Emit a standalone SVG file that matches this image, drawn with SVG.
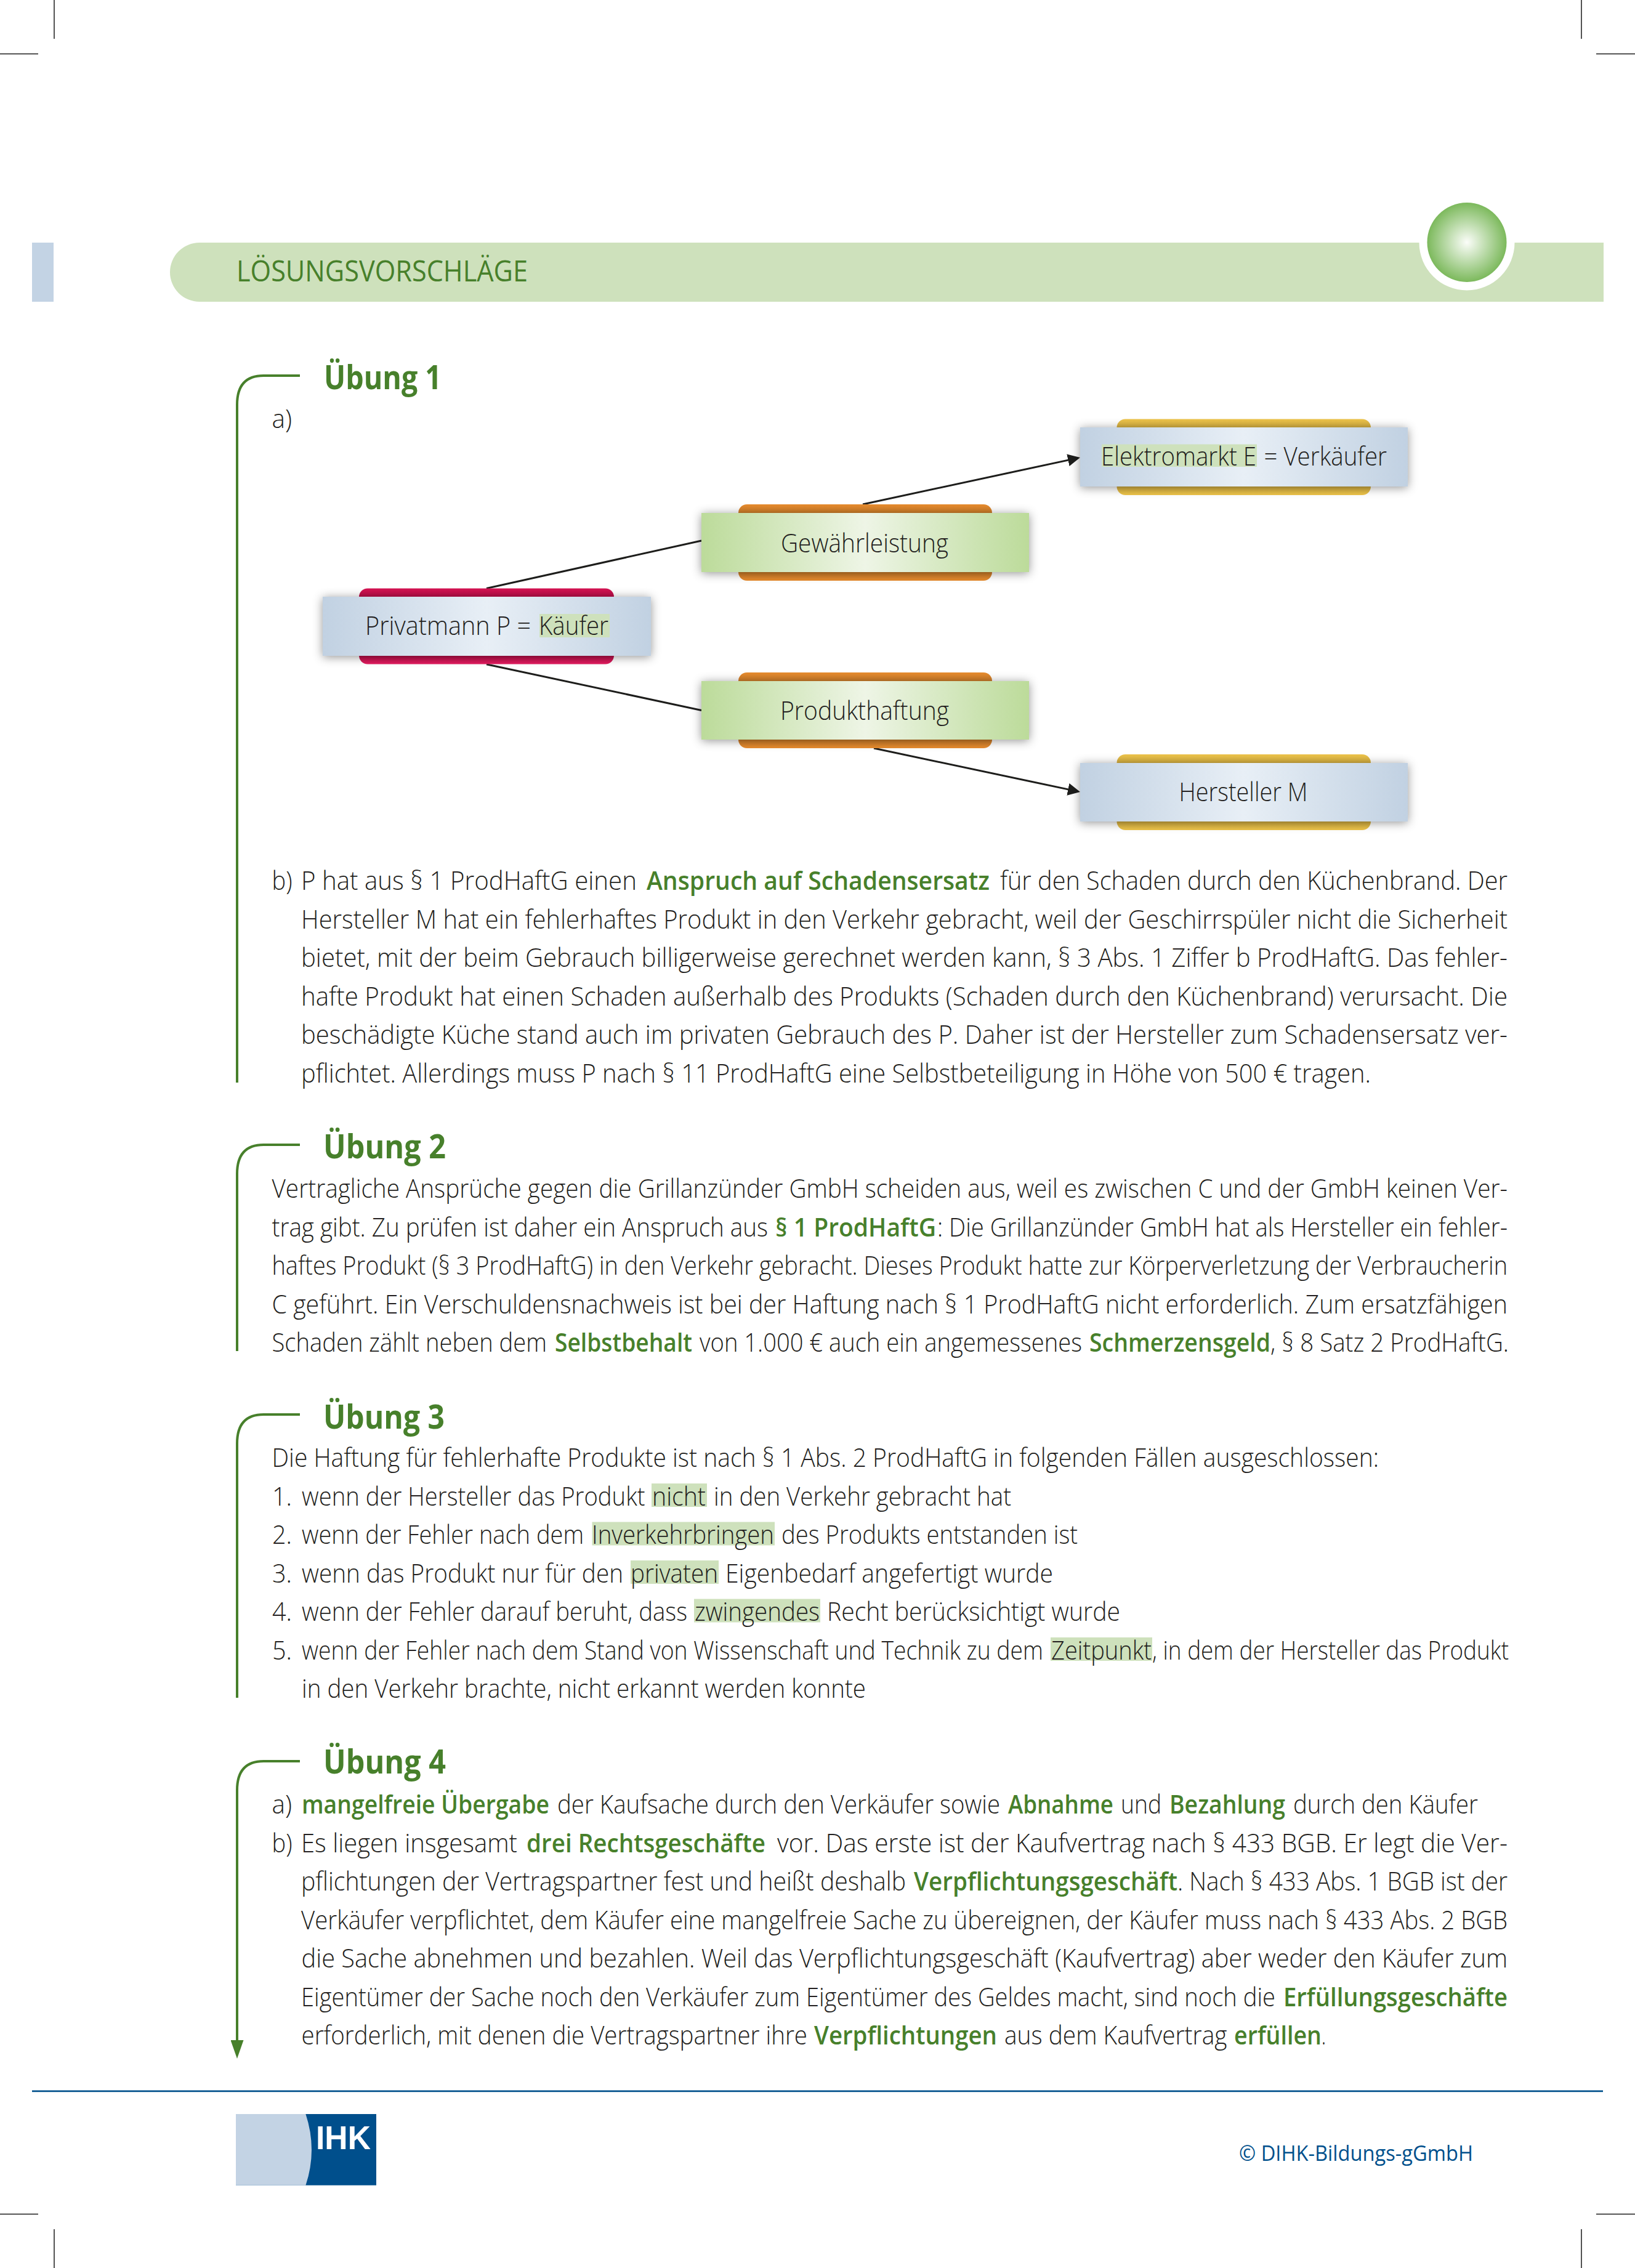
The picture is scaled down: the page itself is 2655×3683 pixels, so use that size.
<svg xmlns="http://www.w3.org/2000/svg" width="2655" height="3683" viewBox="0 0 2655 3683">
<style>
text{font-family:"Open Sans","Noto Sans","Liberation Sans",sans-serif}
.b{font-size:42px;font-weight:300;fill:#231f20}
.g{font-size:42px;font-weight:600;fill:#47802b}
.h{font-size:54px;font-weight:700;fill:#47802b}
.t{font-size:48px;font-weight:500;fill:#47802b}
.hl{fill:#cee1bc}
.crop{stroke:#1a1a1a;stroke-width:1.5;fill:none}
.br{stroke:#47802b;stroke-width:4;fill:none}
.cn{stroke:#1d1d1b;stroke-width:3;fill:none}
.box{filter:url(#sh)}
</style>
<defs>
<filter id="sh" x="-10%" y="-40%" width="120%" height="180%"><feDropShadow dx="0" dy="2" stdDeviation="8" flood-color="#000" flood-opacity=".42"/></filter>
<linearGradient id="bl"><stop offset="0" stop-color="#c1d1e2"/><stop offset=".5" stop-color="#e8eff6"/><stop offset="1" stop-color="#c1d1e2"/></linearGradient>
<linearGradient id="gr"><stop offset="0" stop-color="#bcdb9a"/><stop offset=".5" stop-color="#eef5e6"/><stop offset="1" stop-color="#bcdb9a"/></linearGradient>
<linearGradient id="cr" x2="0" y2="1"><stop offset="0" stop-color="#d61252"/><stop offset=".11" stop-color="#b80e48"/><stop offset=".89" stop-color="#b80e48"/><stop offset="1" stop-color="#e41c60"/></linearGradient>
<linearGradient id="or" x2="0" y2="1"><stop offset="0" stop-color="#e88c2e"/><stop offset=".11" stop-color="#cc7c28"/><stop offset=".89" stop-color="#cc7c28"/><stop offset="1" stop-color="#e88c2e"/></linearGradient>
<linearGradient id="ye" x2="0" y2="1"><stop offset="0" stop-color="#eec44a"/><stop offset=".11" stop-color="#d4ae40"/><stop offset=".89" stop-color="#d4ae40"/><stop offset="1" stop-color="#eec44a"/></linearGradient>
<radialGradient id="ball"><stop offset="0" stop-color="#fbfdf9"/><stop offset="1" stop-color="#7cb95c"/></radialGradient>
<marker id="ah" markerUnits="userSpaceOnUse" markerWidth="20" markerHeight="20" viewBox="0 0 20 20" refX="17" refY="10" orient="auto"><path d="M0 0L20 10L0 20Z" fill="#1d1d1b"/></marker>
<marker id="ag" markerUnits="userSpaceOnUse" markerWidth="30" markerHeight="21" viewBox="0 0 30 21" refX="2" refY="10.5" orient="auto"><path d="M0 0L30 10.5L0 21Z" fill="#47802b"/></marker>
</defs>
<rect width="2655" height="3683" fill="#fff"/>
<g id="crop-marks">
<path class="crop" d="M88 0V63M0 87.5H62M2568 0V63M2592 87.5H2655M88 3620V3683M0 3595.5H62M2568 3620V3683M2592 3595.5H2655"/>
</g>
<g id="header">
<rect x="52" y="394" width="35" height="96" fill="#c3d3e4"/>
<path d="M324 394H2304.5A77.5 77.5 0 0 0 2459.5 394H2604V490H324A48 48 0 0 1 324 394Z" fill="#cee1bc"/>
<circle cx="2382" cy="393.5" r="64.5" fill="url(#ball)"/>
<text class="t" x="384" y="457" textLength="473" lengthAdjust="spacingAndGlyphs">LÖSUNGSVORSCHLÄGE</text>
</g>
<g id="connectors">
<path class="cn" d="M790 955.5L1139 878"/>
<path class="cn" d="M790 1078.7L1139 1153.5"/>
<path class="cn" d="M1401 819L1751 743.6" marker-end="url(#ah)"/>
<path class="cn" d="M1419 1215L1751 1285.4" marker-end="url(#ah)"/>
</g>
<g id="brackets">
<path class="br" d="M487 610H428Q385 610 385 657V1758"/>
<path class="br" d="M487 1859H428Q385 1859 385 1906V2194"/>
<path class="br" d="M487 2297H428Q385 2297 385 2344V2757"/>
<path class="br" d="M487 2860H428Q385 2860 385 2907V3315" marker-end="url(#ag)"/>
</g>
<g id="node-privatmann">
<rect x="583" y="955.5" width="414" height="123" rx="14" fill="url(#cr)"/>
<rect class="box" x="524" y="969" width="533" height="96" fill="url(#bl)"/>
<rect class="hl" x="876" y="997" width="114" height="38"/>
<text class="b" y="1031"><tspan x="593" textLength="269" lengthAdjust="spacingAndGlyphs">Privatmann P =</tspan><tspan x="875" textLength="113" lengthAdjust="spacingAndGlyphs">Käufer</tspan></text>
</g>
<g id="node-gewaehrleistung">
<rect x="1199" y="819" width="412" height="124" rx="14" fill="url(#or)"/>
<rect class="box" x="1139" y="833" width="532" height="96" fill="url(#gr)"/>
<text class="b" x="1268" y="896.5" textLength="272" lengthAdjust="spacingAndGlyphs">Gewährleistung</text>
</g>
<g id="node-produkthaftung">
<rect x="1199" y="1092" width="412" height="123" rx="14" fill="url(#or)"/>
<rect class="box" x="1139" y="1106" width="532" height="95" fill="url(#gr)"/>
<text class="b" x="1267" y="1169" textLength="274" lengthAdjust="spacingAndGlyphs">Produkthaftung</text>
</g>
<g id="node-elektromarkt">
<rect x="1813.5" y="680.5" width="412.5" height="123.5" rx="14" fill="url(#ye)"/>
<rect class="box" x="1754" y="694" width="532" height="96" fill="url(#bl)"/>
<rect class="hl" x="1789" y="721.5" width="252" height="36.5"/>
<text class="b" y="755.5"><tspan x="1788" textLength="252" lengthAdjust="spacingAndGlyphs">Elektromarkt E</tspan><tspan x="2052.5" textLength="199.5" lengthAdjust="spacingAndGlyphs">= Verkäufer</tspan></text>
</g>
<g id="node-hersteller">
<rect x="1813.5" y="1225" width="412.5" height="123" rx="14" fill="url(#ye)"/>
<rect class="box" x="1754" y="1239" width="532" height="95" fill="url(#bl)"/>
<text class="b" x="1914.5" y="1300.5" textLength="209" lengthAdjust="spacingAndGlyphs">Hersteller M</text>
</g>
<g id="uebung1">
<text class="h" x="526" y="632" textLength="191" lengthAdjust="spacingAndGlyphs">Übung 1</text>
<text class="b" x="441.5" y="695" textLength="32.5" lengthAdjust="spacingAndGlyphs">a)</text>
<text class="b" y="1445"><tspan x="441.5" textLength="33" lengthAdjust="spacingAndGlyphs">b)</tspan><tspan x="489" textLength="545" lengthAdjust="spacingAndGlyphs">P hat aus § 1 ProdHaftG einen</tspan><tspan class="g" x="1050" textLength="557" lengthAdjust="spacingAndGlyphs">Anspruch auf Schadensersatz</tspan><tspan x="1624" textLength="824" lengthAdjust="spacingAndGlyphs">für den Schaden durch den Küchenbrand. Der</tspan></text>
<text class="b" x="489" y="1507.5" textLength="1959" lengthAdjust="spacingAndGlyphs">Hersteller M hat ein fehlerhaftes Produkt in den Verkehr gebracht, weil der Geschirrspüler nicht die Sicherheit</text>
<text class="b" x="489" y="1570" textLength="1959" lengthAdjust="spacingAndGlyphs">bietet, mit der beim Gebrauch billigerweise gerechnet werden kann, § 3 Abs. 1 Ziffer b ProdHaftG. Das fehler-</text>
<text class="b" x="489" y="1632.5" textLength="1959" lengthAdjust="spacingAndGlyphs">hafte Produkt hat einen Schaden außerhalb des Produkts (Schaden durch den Küchenbrand) verursacht. Die</text>
<text class="b" x="489" y="1695" textLength="1959" lengthAdjust="spacingAndGlyphs">beschädigte Küche stand auch im privaten Gebrauch des P. Daher ist der Hersteller zum Schadensersatz ver-</text>
<text class="b" x="489" y="1757.5" textLength="1737" lengthAdjust="spacingAndGlyphs">pflichtet. Allerdings muss P nach § 11 ProdHaftG eine Selbstbeteiligung in Höhe von 500 € tragen.</text>
</g>
<g id="uebung2">
<text class="h" x="525" y="1881" textLength="199" lengthAdjust="spacingAndGlyphs">Übung 2</text>
<text class="b" x="441.5" y="1945" textLength="2006.5" lengthAdjust="spacingAndGlyphs">Vertragliche Ansprüche gegen die Grillanzünder GmbH scheiden aus, weil es zwischen C und der GmbH keinen Ver-</text>
<text class="b" y="2007.5"><tspan x="441.5" textLength="805.5" lengthAdjust="spacingAndGlyphs">trag gibt. Zu prüfen ist daher ein Anspruch aus</tspan><tspan class="g" x="1259" textLength="261" lengthAdjust="spacingAndGlyphs">§ 1 ProdHaftG</tspan><tspan x="1522" textLength="926" lengthAdjust="spacingAndGlyphs">: Die Grillanzünder GmbH hat als Hersteller ein fehler-</tspan></text>
<text class="b" x="441.5" y="2070" textLength="2006.5" lengthAdjust="spacingAndGlyphs">haftes Produkt (§ 3 ProdHaftG) in den Verkehr gebracht. Dieses Produkt hatte zur Körperverletzung der Verbraucherin</text>
<text class="b" x="441.5" y="2132.5" textLength="2006.5" lengthAdjust="spacingAndGlyphs">C geführt. Ein Verschuldensnachweis ist bei der Haftung nach § 1 ProdHaftG nicht erforderlich. Zum ersatzfähigen</text>
<text class="b" y="2195"><tspan x="441.5" textLength="446.5" lengthAdjust="spacingAndGlyphs">Schaden zählt neben dem</tspan><tspan class="g" x="901" textLength="223" lengthAdjust="spacingAndGlyphs">Selbstbehalt</tspan><tspan x="1136" textLength="621" lengthAdjust="spacingAndGlyphs">von 1.000 € auch ein angemessenes</tspan><tspan class="g" x="1769" textLength="294" lengthAdjust="spacingAndGlyphs">Schmerzensgeld</tspan><tspan x="2063" textLength="387" lengthAdjust="spacingAndGlyphs">, § 8 Satz 2 ProdHaftG.</tspan></text>
</g>
<g id="uebung3">
<text class="h" x="525" y="2320" textLength="197" lengthAdjust="spacingAndGlyphs">Übung 3</text>
<text class="b" x="441.5" y="2382" textLength="1797.5" lengthAdjust="spacingAndGlyphs">Die Haftung für fehlerhafte Produkte ist nach § 1 Abs. 2 ProdHaftG in folgenden Fällen ausgeschlossen:</text>
<rect class="hl" x="1058" y="2409" width="90" height="38"/>
<rect class="hl" x="961.5" y="2471.5" width="296.5" height="38"/>
<rect class="hl" x="1024" y="2534" width="143" height="38"/>
<rect class="hl" x="1127" y="2596.5" width="205" height="38"/>
<rect class="hl" x="1706" y="2659" width="165" height="38"/>
<text class="b" y="2444.5"><tspan x="442" textLength="32" lengthAdjust="spacingAndGlyphs">1.</tspan><tspan x="490" textLength="557.5" lengthAdjust="spacingAndGlyphs">wenn der Hersteller das Produkt</tspan><tspan x="1059" textLength="87" lengthAdjust="spacingAndGlyphs">nicht</tspan><tspan x="1159" textLength="483" lengthAdjust="spacingAndGlyphs">in den Verkehr gebracht hat</tspan></text>
<text class="b" y="2507"><tspan x="442" textLength="32" lengthAdjust="spacingAndGlyphs">2.</tspan><tspan x="490" textLength="458" lengthAdjust="spacingAndGlyphs">wenn der Fehler nach dem</tspan><tspan x="961" textLength="296" lengthAdjust="spacingAndGlyphs">Inverkehrbringen</tspan><tspan x="1269" textLength="481" lengthAdjust="spacingAndGlyphs">des Produkts entstanden ist</tspan></text>
<text class="b" y="2569.5"><tspan x="442" textLength="32" lengthAdjust="spacingAndGlyphs">3.</tspan><tspan x="490" textLength="522" lengthAdjust="spacingAndGlyphs">wenn das Produkt nur für den</tspan><tspan x="1024" textLength="142" lengthAdjust="spacingAndGlyphs">privaten</tspan><tspan x="1178" textLength="532" lengthAdjust="spacingAndGlyphs">Eigenbedarf angefertigt wurde</tspan></text>
<text class="b" y="2632"><tspan x="442" textLength="32" lengthAdjust="spacingAndGlyphs">4.</tspan><tspan x="490" textLength="626" lengthAdjust="spacingAndGlyphs">wenn der Fehler darauf beruht, dass</tspan><tspan x="1128" textLength="203" lengthAdjust="spacingAndGlyphs">zwingendes</tspan><tspan x="1343" textLength="476" lengthAdjust="spacingAndGlyphs">Recht berücksichtigt wurde</tspan></text>
<text class="b" y="2694.5"><tspan x="442" textLength="32" lengthAdjust="spacingAndGlyphs">5.</tspan><tspan x="490" textLength="1204" lengthAdjust="spacingAndGlyphs">wenn der Fehler nach dem Stand von Wissenschaft und Technik zu dem</tspan><tspan x="1707" textLength="163" lengthAdjust="spacingAndGlyphs">Zeitpunkt</tspan><tspan x="1871" textLength="579" lengthAdjust="spacingAndGlyphs">, in dem der Hersteller das Produkt</tspan></text>
<text class="b" x="490" y="2757" textLength="916" lengthAdjust="spacingAndGlyphs">in den Verkehr brachte, nicht erkannt werden konnte</text>
</g>
<g id="uebung4">
<text class="h" x="525" y="2880" textLength="199" lengthAdjust="spacingAndGlyphs">Übung 4</text>
<text class="b" y="2945"><tspan x="441.5" textLength="32.5" lengthAdjust="spacingAndGlyphs">a)</tspan><tspan class="g" x="490" textLength="402" lengthAdjust="spacingAndGlyphs">mangelfreie Übergabe</tspan><tspan x="905" textLength="719" lengthAdjust="spacingAndGlyphs">der Kaufsache durch den Verkäufer sowie</tspan><tspan class="g" x="1637" textLength="171" lengthAdjust="spacingAndGlyphs">Abnahme</tspan><tspan x="1820" textLength="66" lengthAdjust="spacingAndGlyphs">und</tspan><tspan class="g" x="1899" textLength="188" lengthAdjust="spacingAndGlyphs">Bezahlung</tspan><tspan x="2100" textLength="300" lengthAdjust="spacingAndGlyphs">durch den Käufer</tspan></text>
<text class="b" y="3007.5"><tspan x="441.5" textLength="33" lengthAdjust="spacingAndGlyphs">b)</tspan><tspan x="489" textLength="351" lengthAdjust="spacingAndGlyphs">Es liegen insgesamt</tspan><tspan class="g" x="855" textLength="388" lengthAdjust="spacingAndGlyphs">drei Rechtsgeschäfte</tspan><tspan x="1262" textLength="1186" lengthAdjust="spacingAndGlyphs">vor. Das erste ist der Kaufvertrag nach § 433 BGB. Er legt die Ver-</tspan></text>
<text class="b" y="3070"><tspan x="489" textLength="982" lengthAdjust="spacingAndGlyphs">pflichtungen der Vertragspartner fest und heißt deshalb</tspan><tspan class="g" x="1484" textLength="428" lengthAdjust="spacingAndGlyphs">Verpflichtungsgeschäft</tspan><tspan x="1912" textLength="536" lengthAdjust="spacingAndGlyphs">. Nach § 433 Abs. 1 BGB ist der</tspan></text>
<text class="b" x="489" y="3132.5" textLength="1959" lengthAdjust="spacingAndGlyphs">Verkäufer verpflichtet, dem Käufer eine mangelfreie Sache zu übereignen, der Käufer muss nach § 433 Abs. 2 BGB</text>
<text class="b" x="489.5" y="3195" textLength="1958.5" lengthAdjust="spacingAndGlyphs">die Sache abnehmen und bezahlen. Weil das Verpflichtungsgeschäft (Kaufvertrag) aber weder den Käufer zum</text>
<text class="b" y="3257.5"><tspan x="489" textLength="1582" lengthAdjust="spacingAndGlyphs">Eigentümer der Sache noch den Verkäufer zum Eigentümer des Geldes macht, sind noch die</tspan><tspan class="g" x="2084" textLength="364" lengthAdjust="spacingAndGlyphs">Erfüllungsgeschäfte</tspan></text>
<text class="b" y="3320"><tspan x="489.5" textLength="821.5" lengthAdjust="spacingAndGlyphs">erforderlich, mit denen die Vertragspartner ihre</tspan><tspan class="g" x="1322" textLength="297" lengthAdjust="spacingAndGlyphs">Verpflichtungen</tspan><tspan x="1631" textLength="361.5" lengthAdjust="spacingAndGlyphs">aus dem Kaufvertrag</tspan><tspan class="g" x="2004" textLength="142" lengthAdjust="spacingAndGlyphs">erfüllen</tspan><tspan x="2146" textLength="7" lengthAdjust="spacingAndGlyphs">.</tspan></text>
</g>
<g id="footer">
<rect x="52" y="3394.5" width="2551" height="2.7" fill="#00508c"/>
<rect x="383" y="3433" width="228" height="115.7" fill="#004f8c"/>
<path d="M383 3433H496.4Q515.6 3491 496.4 3548.7H383Z" fill="#c3d3e4"/>
<text x="513" y="3490" font-size="53" font-weight="700" fill="#fff" style="font-family:'Liberation Sans',sans-serif" textLength="89" lengthAdjust="spacingAndGlyphs">IHK</text>
<text x="2012" y="3509" font-size="34" fill="#00508c" textLength="380" lengthAdjust="spacingAndGlyphs">© DIHK-Bildungs-gGmbH</text>
</g>
</svg>
